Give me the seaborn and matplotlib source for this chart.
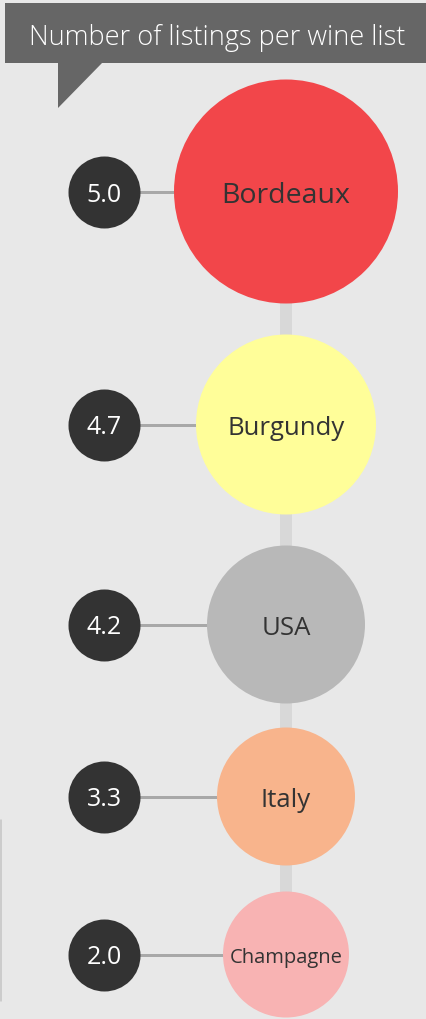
import matplotlib
matplotlib.use("Agg")
import matplotlib.pyplot as plt
import seaborn as sns
import pandas as pd
from matplotlib.patches import Rectangle, Polygon

# data
regions = ["Bordeaux", "Burgundy", "USA", "Italy", "Champagne"]
listings = [5.0, 4.7, 4.2, 3.3, 2.0]
bubble_radius = [112, 90, 79, 69, 63]
colors = ["#f2464a", "#fffe99", "#b8b8b8", "#f8b48c", "#f8b3b3"]
title = "Number of listings per wine list"

# layout
BG = "#e8e8e8"
W, H = 426, 1020
PX = 0.72  # points per pixel at dpi 100
top_y = 192.5
gaps = [31, 31, 24, 26]
label_sizes = [20.5, 18.5, 18.5, 18.5, 14.5]

sns.set_style("white")
plt.rcParams["font.family"] = ["Open Sans", "DejaVu Sans"]

# stack the bubbles from the top
ys = [top_y]
for i in range(1, len(bubble_radius)):
    ys.append(ys[-1] + bubble_radius[i - 1] + gaps[i - 1] + bubble_radius[i])

df = pd.DataFrame({
    "region": regions,
    "listings": listings,
    "r": bubble_radius,
    "y": ys,
    "x": 286,
    "vx": 104,
})

fig = plt.figure(figsize=(W / 100, H / 100), dpi=100)
fig.patch.set_facecolor(BG)
ax = fig.add_axes([0, 0, 1, 1])
ax.set_facecolor(BG)

# spine connecting the bubbles
ax.plot([286, 286], [ys[0], ys[-1]], color="#d8d8d8", lw=12 * PX, zorder=1,
        solid_capstyle="butt")

# horizontal connectors
for _, row in df.iterrows():
    ax.plot([row.vx, row.x], [row.y, row.y], color="#a8a8a8", lw=3 * PX, zorder=1)

# region bubbles
sns.scatterplot(data=df, x="x", y="y", hue="region", palette=colors,
                s=[(2 * r * PX) ** 2 for r in bubble_radius], linewidth=0,
                legend=False, ax=ax, zorder=2)

# value dots
sns.scatterplot(data=df, x="vx", y="y", color="#333333", s=(2 * 36 * PX) ** 2,
                linewidth=0, legend=False, ax=ax, zorder=2)

# labels, baseline placed so the caps sit centred on the row
for i, row in df.iterrows():
    fs = label_sizes[i]
    ax.text(row.x, row.y + 0.5 * fs, row.region, ha="center", va="baseline",
            fontsize=fs, color="#333333", zorder=3)
    ax.text(row.vx, row.y + 9, f"{row.listings:.1f}", ha="center", va="baseline",
            fontsize=18, color="white", zorder=3)

# faint edge rule at the lower left
ax.plot([1, 1], [821, 1002], color="#c4c4c4", lw=1.5 * PX, zorder=1)

ax.set_xlim(0, W)
ax.set_ylim(H, 0)
ax.axis("off")

# title callout
ax.add_patch(Rectangle((5, 4), W, 60, facecolor="#666666", edgecolor="none", zorder=4))
ax.add_patch(Polygon([(58, 63), (103, 63), (58, 109)], closed=True,
                     facecolor="#666666", edgecolor="none", zorder=4))
ax.text(217, 45, title, ha="center", va="baseline", fontsize=19.5,
        color="white", fontweight="light", zorder=5)

fig.savefig("out.png", dpi=100, facecolor=BG)
